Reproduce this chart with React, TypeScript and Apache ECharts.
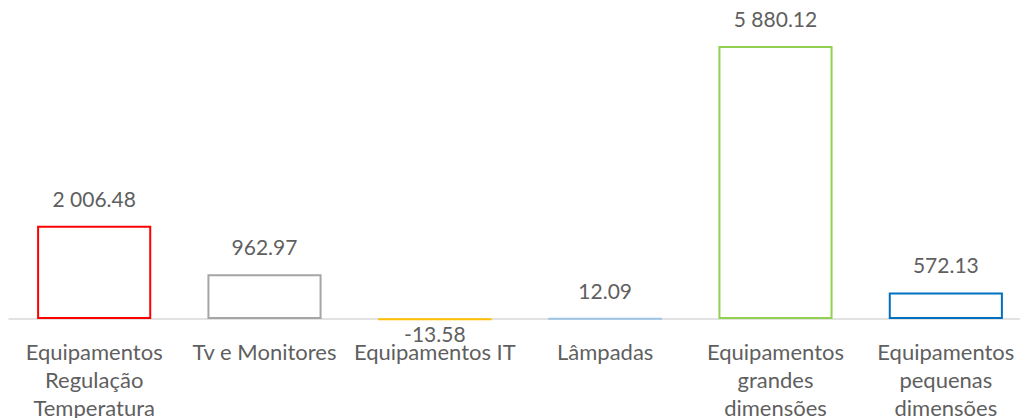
import React, { useEffect, useRef } from "react";
import * as echarts from "echarts";

const categories = [
  "Equipamentos\nRegulação\nTemperatura",
  "Tv e Monitores",
  "Equipamentos IT",
  "Lâmpadas",
  "Equipamentos\ngrandes\ndimensões",
  "Equipamentos\npequenas\ndimensões",
];
const values = [2006.48, 962.97, -13.58, 12.09, 5880.12, 572.13];
const borderColors = ["#FF0000", "#A5A5A5", "#FFC000", "#9DC3E6", "#92D050", "#0070C0"];

const fmt = (v: number) => {
  const s = Math.abs(v).toFixed(2);
  const [i, d] = s.split(".");
  const ii = i.replace(/\B(?=(\d{3})+(?!\d))/g, " ");
  return (v < 0 ? "-" : "") + ii + "." + d;
};

export default function App() {
  const ref = useRef<HTMLDivElement>(null);
  useEffect(() => {
    if (!ref.current) return;
    const chart = echarts.init(ref.current, undefined, { renderer: "svg" });
    const font = "Lato, 'Open Sans', sans-serif";
    chart.setOption({
      animation: false,
      backgroundColor: "#ffffff",
      grid: { left: 9, right: 0, top: 0, bottom: 88, outerBoundsMode: "none", containLabel: false },
      xAxis: {
        type: "category",
        data: categories,
        axisLine: { show: true, onZero: true, lineStyle: { color: "#D9D9D9", width: 1.5 } },
        axisTick: { show: false },
        axisLabel: {
          interval: 0,
          color: "#5f5f5f",
          fontSize: 22,
          fontFamily: font,
          lineHeight: 28,
          margin: 7,
        },
        z: 1,
      },
      yAxis: {
        type: "value",
        min: -237,
        max: 6870,
        show: false,
        splitLine: { show: false },
      },
      series: [
        {
          type: "bar",
          barWidth: "67%",
          z: 3,
          data: values.map((v, i) => ({
            value: v,
            itemStyle: { color: "#ffffff", borderColor: borderColors[i], borderWidth: 2 },
            label: v < 0 ? { position: "bottom", distance: 3 } : undefined,
          })),
          label: {
            show: true,
            position: "top",
            distance: 17,
            color: "#5f5f5f",
            fontSize: 21,
            fontFamily: font,
            formatter: (p: any) => fmt(p.value),
          },
        },
      ],
    });
    return () => chart.dispose();
  }, []);
  return (
    <div style={{ position: "absolute", left: 0, top: 0, width: 1020, height: 418, overflow: "hidden", background: "#fff" }}>
      <div ref={ref} style={{ width: 1031, height: 418 }} />
    </div>
  );
}
